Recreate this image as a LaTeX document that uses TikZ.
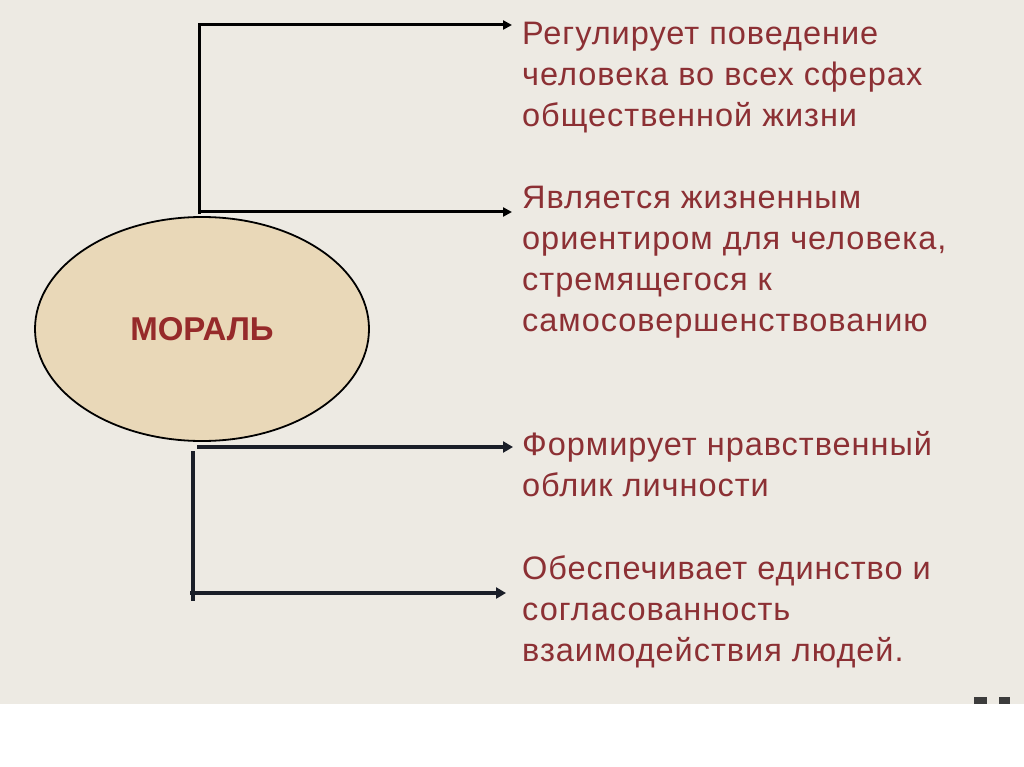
\documentclass[tikz,border=0pt]{standalone}
\usepackage{fontspec}
\setmainfont{Liberation Sans}
\usetikzlibrary{arrows.meta,shapes.geometric}
\definecolor{bg}{RGB}{237,234,227}
\definecolor{txt}{RGB}{140,48,52}
\definecolor{mtxt}{RGB}{150,42,42}
\definecolor{oval}{RGB}{233,216,184}
\definecolor{dark}{RGB}{26,30,40}
\definecolor{cornergrey}{RGB}{60,60,60}
\newfontfamily\spacedfont[LetterSpace=3]{Liberation Sans}
\begin{document}
\begin{tikzpicture}[x=1pt,y=-1pt,
  item/.style={anchor=north west, inner sep=0pt, align=left, text=txt,
    font=\spacedfont\fontsize{32.5}{41}\selectfont},
  conn/.style={line width=3pt, draw=black, -{Triangle[length=9pt,width=9pt]}},
  connb/.style={line width=4.5pt, draw=dark, -{Triangle[length=10pt,width=11pt]}},
  vline/.style={line width=4pt, draw=dark},
]
\fill[white] (0,0) rectangle (1024,767);
\fill[bg] (0,0) rectangle (1024,704);
\useasboundingbox (0,0) rectangle (1024,767);
\fill[cornergrey] (974,697) rectangle (987,704);
\fill[cornergrey] (999,697) rectangle (1010,704);

\node[ellipse, draw=black, line width=1.8pt, fill=oval, minimum width=334pt,
  minimum height=224pt, inner sep=0pt, text=mtxt,
  font=\fontsize{33}{38}\selectfont\bfseries] (moral) at (202,329) {МОРАЛЬ};

\node[item] (t1) at (522,22) {Регулирует поведение\\человека во всех сферах\\общественной жизни};
\node[item] (t2) at (522,186) {Является жизненным\\ориентиром для человека,\\стремящегося к\\самосовершенствованию};
\node[item] (t3) at (522,431) {Формирует нравственный\\облик личности};
\node[item] (t4) at (522,555) {Обеспечивает единство и\\согласованность\\взаимодействия людей.};

\coordinate (k1) at (199,25);
\coordinate (k2) at (199,214);
\coordinate (k3) at (199,212);
\coordinate (a1) at (512,25);
\coordinate (a2) at (512,212);
\coordinate (b1) at (197,447);
\coordinate (a3) at (513,447);
\coordinate (v1) at (193,451);
\coordinate (v2) at (193,601);
\coordinate (b2) at (190,593);
\coordinate (a4) at (506,593);

\draw[conn] (k2) -- (k1) -- (a1);
\draw[conn] (k3) -- (a2);
\draw[connb] (b1) -- (a3);
\draw[vline] (v1) -- (v2);
\draw[connb] (b2) -- (a4);
\end{tikzpicture}
\end{document}
